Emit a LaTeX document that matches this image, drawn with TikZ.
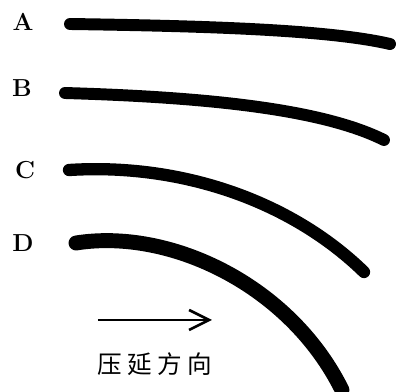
\documentclass[tikz,border=0pt]{standalone}
\usepackage{fontspec}
\newfontfamily\cjk{Noto Sans CJK SC}
\usepackage{tikz}
\usetikzlibrary{arrows.meta, positioning}

\begin{document}
\begin{tikzpicture}[
        x=0.02cm, y=-0.02cm,
        letter/.style={font=\bfseries\fontsize{14}{14}\selectfont, inner sep=0pt},
        strip/.style={line cap=round, line width=6.8pt},
        arrow/.style={line width=1.5pt, -{Straight Barb[length=0.4cm, width=0.4cm, line width=1.5pt]}},
        caption/.style={font=\cjk\fontsize{14}{14}\selectfont, inner sep=0pt}
        ]
        \useasboundingbox (0,0) rectangle (400,392);

        % Labels
        \node (labA) [letter] at (23,22) {A};
        \node (labB) [letter] at (22,88) {B};
        \node (labC) [letter] at (25,170) {C};
        \node (labD) [letter] at (23,243) {D};

        % Strips
        \draw [strip] (70,24) .. controls (210,26) and (330,30) .. (390,44);
        \draw [strip] (65,93) .. controls (200,97) and (320,108) .. (384,140);
        \draw [strip, line width=7pt] (69,170) .. controls (180,163) and (290,200) .. (364,272);
        \draw [strip, line width=8.5pt] (76,243) .. controls (170,228) and (290,285) .. (342,390);

        % Rolling direction
        \coordinate (arrowstart) at (98,320);
        \coordinate (arrowend) at (212,320);
        \draw [arrow] (arrowstart) -- (arrowend);
        \node (dir) [caption] at (155,364) {压\hspace{3pt}延\hspace{3pt}方\hspace{3pt}向};

    \end{tikzpicture}
\end{document}
